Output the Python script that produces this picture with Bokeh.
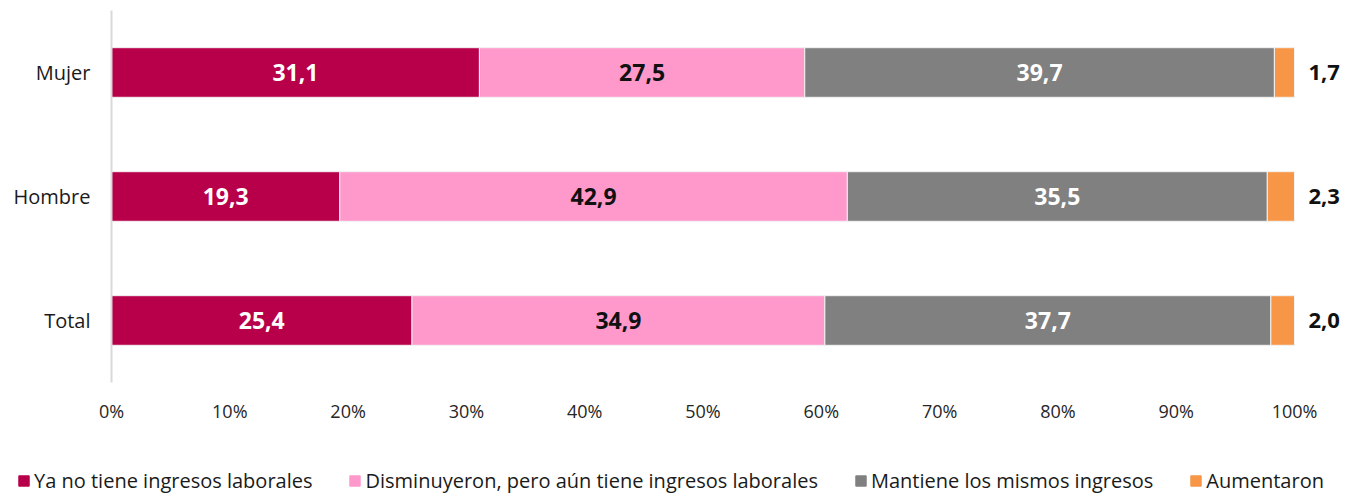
import numpy as np
from bokeh.plotting import figure
from bokeh.models import ColumnDataSource, FactorRange, Range1d, FixedTicker, Legend, LegendItem
from bokeh.core.properties import value
from bokeh.embed import file_html
from bokeh.resources import INLINE

# ---- data ----
categories = ["Total", "Hombre", "Mujer"]
series_names = ["Ya no tiene ingresos laborales",
                "Disminuyeron, pero aún tiene ingresos laborales",
                "Mantiene los mismos ingresos",
                "Aumentaron"]
ya_no = [25.4, 19.3, 31.1]
disminuyeron = [34.9, 42.9, 27.5]
mantiene = [37.7, 35.5, 39.7]
aumentaron = [2.0, 2.3, 1.7]
x_ticks = [0, 10, 20, 30, 40, 50, 60, 70, 80, 90, 100]
x_tick_labels = ["0%", "10%", "20%", "30%", "40%", "50%", "60%", "70%", "80%", "90%", "100%"]

colors = ["#B8004A", "#FF99CC", "#808080", "#F79646"]
label_colors = ["white", "#111111", "white"]
FONT = "Open Sans"

keys = ["s0", "s1", "s2", "s3"]
series = [ya_no, disminuyeron, mantiene, aumentaron]
src = ColumnDataSource(dict(cat=categories, **{k: v for k, v in zip(keys, series)}))

p = figure(width=1345, height=450, y_range=FactorRange(factors=categories),
           x_range=Range1d(0, 104.31), output_backend="svg", toolbar_location=None,
           min_border_left=111, min_border_right=0, min_border_top=10, min_border_bottom=68)
p.outline_line_color = None
p.xgrid.grid_line_color = None
p.ygrid.grid_line_color = None

renderers = p.hbar_stack(keys, y="cat", height=0.4, color=colors, source=src,
                         line_color="#F2F2F2", line_width=1)

# data labels
vals = np.array(series)
cum = np.cumsum(vals, axis=0)
for i in range(3):
    mids = cum[i] - vals[i] / 2
    ls = ColumnDataSource(dict(x=mids, y=categories,
                               t=[f"{v:.1f}".replace(".", ",") for v in vals[i]]))
    p.text(x="x", y="y", text="t", source=ls, text_align="center", text_baseline="middle",
           text_color=label_colors[i], text_font=value(FONT), text_font_style="bold",
           text_font_size="23px")
ls = ColumnDataSource(dict(x=cum[3], y=categories,
                           t=[f"{v:.1f}".replace(".", ",") for v in vals[3]]))
p.text(x="x", y="y", text="t", source=ls, text_align="left", text_baseline="middle",
       x_offset=14, text_color="#111111", text_font=value(FONT), text_font_style="bold",
       text_font_size="22px")

# axes
xa = p.xaxis[0]
xa.ticker = FixedTicker(ticks=x_ticks)
xa.major_label_overrides = {t: l for t, l in zip(x_ticks, x_tick_labels)}
xa.axis_line_color = None
xa.major_tick_line_color = None
xa.minor_tick_line_color = None
xa.major_label_standoff = 10
xa.major_label_text_font = FONT
xa.major_label_text_font_size = "18px"
xa.major_label_text_color = "#262626"

ya = p.yaxis[0]
ya.axis_line_color = "#D9D9D9"
ya.axis_line_width = 2
ya.major_tick_line_color = None
ya.minor_tick_line_color = None
ya.major_label_standoff = 15
ya.major_label_text_font = FONT
ya.major_label_text_font_size = "20px"
ya.major_label_text_color = "#1a1a1a"

# legend strip
q = figure(width=1345, height=44, x_range=Range1d(0, 1345), y_range=Range1d(0, 44),
           output_backend="svg", toolbar_location=None,
           min_border_left=0, min_border_right=0, min_border_top=0, min_border_bottom=0)
q.axis.visible = False
q.grid.visible = False
q.outline_line_color = None
leg_rs = [q.vbar(x=[np.nan], top=[np.nan], width=1, color=c) for c in colors]
legend = Legend(items=[LegendItem(label=n, renderers=[r]) for n, r in zip(series_names, leg_rs)],
                orientation="horizontal", location=(17, 0),
                glyph_width=13, glyph_height=13, label_standoff=4, spacing=36,
                padding=0, margin=0, border_line_color=None, background_fill_alpha=0,
                label_text_font=FONT, label_text_font_size="20px", label_text_color="#1a1a1a")
q.add_layout(legend, "center")

open("out.html", "w").write(file_html([p, q], INLINE))
